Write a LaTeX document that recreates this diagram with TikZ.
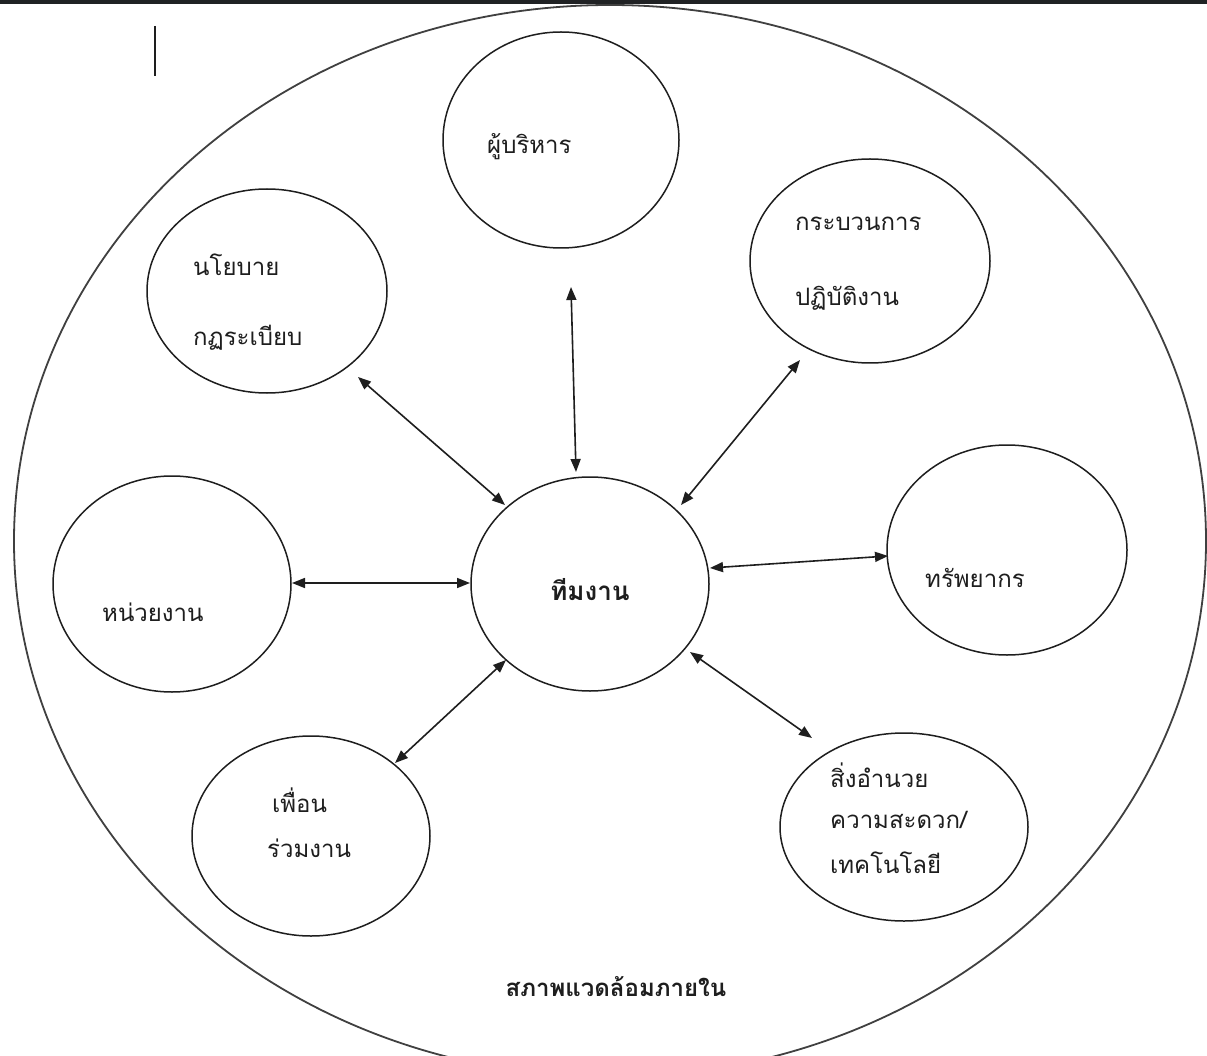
\documentclass[tikz,border=0pt]{standalone}
\usepackage{fontspec}
\newfontfamily\thaifont[Script=Thai]{Loma}
\usetikzlibrary{shapes.geometric,arrows.meta}
\definecolor{inkc}{HTML}{1E1E1E}
\definecolor{barc}{HTML}{202224}
\tikzset{
  bubble/.style={ellipse, draw=inkc, line width=1.5pt, inner sep=0pt},
  lbl/.style={font=\thaifont\fontsize{24}{27}\selectfont, text=inkc, inner sep=0pt, anchor=west},
  blbl/.style={font=\thaifont\bfseries\fontsize{24}{27}\selectfont, text=inkc, inner sep=0pt},
  link/.style={line width=1.6pt, draw=inkc, {Triangle[length=13pt,width=10pt]}-{Triangle[length=13pt,width=10pt]}}
}
\begin{document}
\begin{tikzpicture}[x=1pt,y=-1pt]
\clip (0,0) rectangle (1207,1056);
\fill[white] (0,0) rectangle (1207,1056);
\fill[barc] (0,0) rectangle (1207,4);
\draw[inkc, line width=1.8pt] (155,26) -- (155,76);
% outer environment ellipse
\node[ellipse, draw=inkc!85, line width=1.8pt, inner sep=0pt, minimum width=1192pt, minimum height=1072pt] (env) at (610,541) {};
% bubbles
\node[bubble, minimum width=236pt, minimum height=216pt] (boss) at (561,140) {};
\node[bubble, minimum width=240pt, minimum height=204pt] (policy) at (267,291) {};
\node[bubble, minimum width=240pt, minimum height=204pt] (process) at (870,261) {};
\node[bubble, minimum width=238pt, minimum height=214pt] (team) at (590,584) {};
\node[bubble, minimum width=240pt, minimum height=210pt] (res) at (1007,550) {};
\node[bubble, minimum width=238pt, minimum height=216pt] (unit) at (172,584) {};
\node[bubble, minimum width=238pt, minimum height=200pt] (peer) at (311,836) {};
\node[bubble, minimum width=248pt, minimum height=188pt] (tech) at (904,827) {};
% labels
\node[lbl] (tboss) at (487,147) {ผู้บริหาร};
\node[lbl] (tpol1) at (193,265) {นโยบาย};
\node[lbl] (tpol2) at (193,338) {กฏระเบียบ};
\node[lbl] (tpro1) at (795,224) {กระบวนการ};
\node[lbl] (tpro2) at (795,298) {ปฏิบัติงาน};
\node[blbl, font=\thaifont\bfseries\fontsize{26}{29}\selectfont] (tteam) at (590,590) {ทีมงาน};
\node[lbl] (tres) at (925,578) {ทรัพยากร};
\node[lbl] (tunit) at (102,612) {หน่วยงาน};
\node[lbl] (tpeer1) at (272,800) {เพื่อน};
\node[lbl] (tpeer2) at (267,848) {ร่วมงาน};
\node[lbl] (ttech1) at (830,775) {สิ่งอำนวย};
\node[lbl] (ttech2) at (830,820) {ความสะดวก/};
\node[lbl] (ttech3) at (830,863) {เทคโนโลยี};
\node[blbl] (tenv) at (616,987) {สภาพแวดล้อมภายใน};
% arrow end points
\coordinate (bossE) at (571,287);  \coordinate (teamN) at (576,472);
\coordinate (polE) at (358,377);   \coordinate (teamNW) at (505,505);
\coordinate (proE) at (800,360);   \coordinate (teamNE) at (681,505);
\coordinate (resE) at (888,556);   \coordinate (teamE) at (710,568);
\coordinate (unitE) at (292,583);  \coordinate (teamW) at (470,583);
\coordinate (peerE) at (395,763);  \coordinate (teamSW) at (506,660);
\coordinate (techE) at (812,738);  \coordinate (teamSE) at (690,652);
% connectors
\draw[link] (bossE) -- (teamN);
\draw[link] (polE) -- (teamNW);
\draw[link] (proE) -- (teamNE);
\draw[link] (teamE) -- (resE);
\draw[link] (unitE) -- (teamW);
\draw[link] (peerE) -- (teamSW);
\draw[link] (teamSE) -- (techE);
\end{tikzpicture}
\end{document}
